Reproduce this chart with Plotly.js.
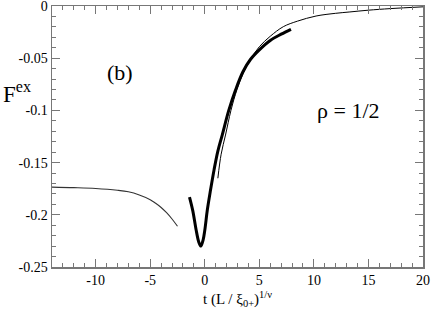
<!DOCTYPE html>
<html>
<head>
<meta charset="utf-8">
<script src="https://cdn.plot.ly/plotly-3.0.1.min.js"></script>
<style>html,body{margin:0;padding:0;background:#fff;}#chart{width:432px;height:309px;}#status{position:absolute;left:0;top:0;width:1px;height:1px;overflow:hidden;}</style>
</head>
<body>
<div id="chart"></div>
<div id="status"></div>
<script>
// Left branch (thin)
var tLeft = [-14, -12, -10, -8, -7, -6, -5, -4.5, -4, -3.5, -3, -2.5];
var fLeft = [-0.1735, -0.174, -0.1748, -0.1765, -0.178, -0.181, -0.1855, -0.189, -0.193, -0.198, -0.204, -0.211];
// Middle branch (thick)
var tMid = [-1.4, -1.1, -0.8, -0.55, -0.36, -0.15, 0, 0.24, 0.5, 0.85, 1.2, 1.6, 2.2, 2.82, 3.5, 4.2, 5.0, 6.0, 7.0, 7.9];
var fMid = [-0.183, -0.196, -0.214, -0.226, -0.230, -0.224, -0.215, -0.195, -0.178, -0.157, -0.139, -0.1236, -0.100, -0.0805, -0.063, -0.051, -0.042, -0.033, -0.027, -0.0223];
// Right branch (thin)
var tRight = [1.2, 1.5, 1.9, 2.4, 2.95, 3.5, 4.2, 5.0, 6.0, 7.2, 8.5, 10.2, 12, 13.3, 15, 17, 20];
var fRight = [-0.165, -0.142, -0.1236, -0.100, -0.080, -0.065, -0.051, -0.039, -0.029, -0.0198, -0.0145, -0.0096, -0.007, -0.0057, -0.004, -0.0025, -0.0008];

var xTickVals = [-10, -5, 0, 5, 10, 15, 20];
var xTickText = ["-10", "-5", "0", "5", "10", "15", "20"];
var yTickVals = [-0.25, -0.2, -0.15, -0.1, -0.05, 0];
var yTickText = ["-0.25", "-0.2", "-0.15", "-0.1", "-0.05", "0"];

var xMinor = [];
for (var i = -14; i <= 20; i++) { if (i % 5 !== 0) xMinor.push(i); }
var yMinor = [];
for (var j = -25; j <= 0; j++) { if (j % 5 !== 0) yMinor.push(j / 100); }

var serif = "'Liberation Serif', serif";
var axisColor = "#777";

function axis(range, tv, tt, mv) {
  return {
    range: range, showgrid: false, zeroline: false,
    showline: true, linecolor: axisColor, linewidth: 1.5, mirror: "allticks",
    ticks: "inside", ticklen: 8, tickcolor: axisColor, tickwidth: 1.2,
    tickmode: "array", tickvals: tv, ticktext: tt,
    ticklabeloverflow: "allow",
    tickfont: {family: serif, size: 14, color: "#000"},
    minor: {tickmode: "array", tickvals: mv, ticks: "inside", ticklen: 4, tickcolor: axisColor, tickwidth: 1, showgrid: false},
    fixedrange: true
  };
}

var xa = axis([-14, 20], xTickVals, xTickText, xMinor);
xa.title = {text: "t (L / ξ<sub>0+</sub>)<sup>1/ν</sup>", font: {family: serif, size: 15, color: "#000"}, standoff: 6};
var ya = axis([-0.25, 0], yTickVals, yTickText, yMinor);

var traces = [
  {x: tLeft, y: fLeft, mode: "lines", line: {color: "#333", width: 1.1, shape: "spline"}},
  {x: tRight, y: fRight, mode: "lines", line: {color: "#000", width: 1, shape: "spline"}},
  {x: tMid, y: fMid, mode: "lines", line: {color: "#000", width: 3, shape: "spline"}}
];

var layout = {
  width: 432, height: 309,
  margin: {l: 52, r: 9, t: 6, b: 42},
  paper_bgcolor: "#fff", plot_bgcolor: "#fff",
  showlegend: false,
  font: {family: serif, color: "#000", size: 14},
  xaxis: xa,
  yaxis: ya,
  annotations: [
    {text: "F<sup>ex</sup>", xref: "paper", yref: "paper", x: -0.137, y: 0.67,
     xanchor: "left", yanchor: "middle", showarrow: false, font: {family: serif, size: 23, color: "#000"}},
    {text: "(b)", xref: "paper", yref: "paper", x: 0.183, y: 0.747,
     xanchor: "center", yanchor: "middle", showarrow: false, font: {family: serif, size: 22, color: "#000"}},
    {text: "ρ = 1/2", xref: "paper", yref: "paper", x: 0.80, y: 0.60,
     xanchor: "center", yanchor: "middle", showarrow: false, font: {family: serif, size: 22, color: "#000"}}
  ]
};

Plotly.newPlot("chart", traces, layout, {staticPlot: true}).then(function () {
  document.getElementById("status").setAttribute("data-ready", "1");
  document.body.setAttribute("data-plotted", "1");
});
</script>
</body>
</html>
